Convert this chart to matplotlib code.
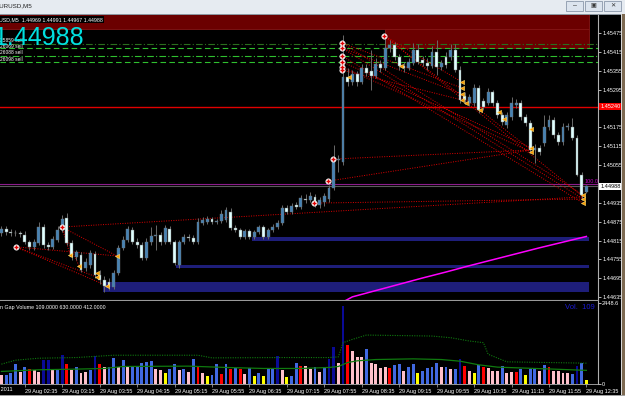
import numpy as np
import matplotlib.pyplot as plt
from matplotlib.patches import Rectangle
from matplotlib.transforms import blended_transform_factory

plt.rcParams['font.family'] = ['Liberation Sans', 'DejaVu Sans']

W, H = 625, 396


def fx(x):
    return x / W


def fy(y):
    return 1 - y / H


# ---------------- data ----------------
# EURUSD M5 candles, prices in points (0.00001) above 1.44000
open_pts = [839, 852, 842, 839, 840, 833, 810, 795, 807, 858,
            801, 795, 817, 849, 887, 807, 763, 769, 728, 737,
            772, 705, 690, 683, 667, 712, 791, 817, 849, 810,
            801, 760, 810, 830, 833, 810, 852, 810, 737, 810,
            826, 823, 810, 871, 874, 884, 874, 877, 880, 906,
            855, 849, 826, 845, 826, 842, 858, 826, 849, 858,
            871, 919, 906, 928, 922, 947, 944, 954, 928, 938,
            947, 982, 1071, 1065, 1335, 1319, 1345, 1319, 1364, 1354,
            1338, 1376, 1364, 1427, 1437, 1399, 1370, 1364, 1380, 1421,
            1389, 1380, 1370, 1415, 1367, 1399, 1399, 1421, 1357, 1275,
            1252, 1252, 1300, 1259, 1252, 1287, 1252, 1214, 1182, 1208,
            1246, 1252, 1208, 1189, 1103, 1109, 1125, 1176, 1198, 1151,
            1128, 1176, 1176, 1141, 1023, 969]
close_pts = [852, 842, 839, 840, 836, 810, 795, 810, 858, 801,
             795, 820, 849, 884, 807, 763, 779, 721, 747, 776,
             705, 690, 670, 667, 712, 791, 817, 852, 810, 801,
             760, 810, 830, 833, 810, 855, 810, 744, 810, 826,
             823, 810, 874, 880, 884, 874, 877, 900, 912, 855,
             849, 826, 845, 826, 842, 858, 826, 849, 858, 871,
             919, 906, 925, 922, 950, 944, 957, 928, 944, 957,
             982, 1071, 1074, 1335, 1319, 1345, 1319, 1364, 1348, 1338,
             1376, 1364, 1427, 1437, 1399, 1370, 1364, 1383, 1421, 1383,
             1380, 1370, 1415, 1367, 1380, 1373, 1421, 1357, 1262, 1262,
             1271, 1300, 1230, 1240, 1287, 1252, 1214, 1192, 1214, 1252,
             1252, 1208, 1189, 1103, 1109, 1097, 1176, 1198, 1151, 1128,
             1176, 1179, 1141, 1023, 960, 988]
high_pts = [861, 861, 852, 849, 845, 845, 817, 820, 874, 868,
            810, 830, 861, 896, 903, 817, 785, 779, 760, 785,
            782, 721, 702, 696, 721, 801, 830, 861, 858, 823,
            810, 823, 858, 864, 842, 864, 861, 817, 817, 836,
            836, 833, 887, 890, 893, 890, 884, 912, 922, 919,
            864, 855, 852, 852, 849, 864, 864, 855, 868, 880,
            928, 928, 934, 938, 960, 963, 969, 963, 954, 966,
            992, 1119, 1087, 1469, 1364, 1357, 1354, 1376, 1376, 1421,
            1396, 1389, 1475, 1453, 1446, 1408, 1383, 1396, 1443, 1440,
            1402, 1396, 1434, 1453, 1389, 1415, 1440, 1440, 1370, 1287,
            1281, 1313, 1310, 1268, 1300, 1294, 1262, 1224, 1224, 1271,
            1265, 1262, 1217, 1198, 1122, 1119, 1214, 1214, 1208, 1160,
            1189, 1189, 1205, 1151, 1033, 991]
low_pts = [830, 833, 830, 830, 826, 804, 785, 785, 801, 791,
           785, 788, 810, 842, 801, 753, 753, 715, 718, 728,
           696, 677, 651, 658, 661, 705, 785, 810, 804, 791,
           753, 753, 801, 785, 801, 804, 804, 737, 728, 804,
           814, 804, 804, 865, 868, 868, 868, 871, 874, 849,
           842, 820, 820, 820, 820, 836, 820, 820, 842, 852,
           865, 900, 900, 915, 915, 934, 938, 922, 919, 925,
           938, 976, 1033, 1055, 1307, 1310, 1307, 1313, 1338, 1294,
           1332, 1351, 1357, 1415, 1389, 1357, 1351, 1357, 1373, 1376,
           1370, 1357, 1364, 1341, 1357, 1364, 1389, 1351, 1252, 1249,
           1243, 1243, 1221, 1230, 1246, 1243, 1205, 1182, 1173, 1198,
           1237, 1198, 1179, 1094, 1062, 1087, 1116, 1167, 1141, 1119,
           1119, 1167, 1135, 1019, 944, 967]

# volume histogram and its colour codes (b blue, n navy, r red, p pink, y yellow)
volume = [272, 272, 322, 604, 372, 524, 453, 423, 372, 725,
          725, 423, 443, 876, 604, 423, 524, 342, 372, 423,
          846, 604, 503, 524, 775, 503, 725, 503, 544, 544,
          644, 674, 695, 443, 423, 342, 453, 604, 423, 463,
          372, 755, 503, 342, 242, 262, 604, 302, 604, 443,
          473, 453, 302, 473, 242, 322, 242, 443, 493, 846,
          423, 222, 242, 644, 554, 554, 443, 503, 372, 503,
          755, 1107, 644, 2356, 1178, 1007, 805, 805, 1047, 644,
          604, 473, 524, 493, 574, 604, 393, 503, 604, 342,
          403, 493, 503, 644, 503, 524, 453, 453, 755, 554,
          393, 342, 574, 503, 473, 403, 393, 544, 342, 372,
          372, 453, 272, 453, 473, 393, 574, 503, 403, 403,
          342, 322, 302, 544, 624, 109]
vol_codes = ("pbbbpbrppn" "npbnrpbppb" "nrpbbpbpbb" "bbbppybbpb"
             "pbrpybbrbr" "brpbybybbn" "pybbrppbpb" "nnpnrpppbp"
             "ppprbbpbby" "bbbbpbpbnr" "pybrpppbpp" "rbybbpbrpp"
             "ppbnby")

# volume average lines (bar, value)
vol_ma_bars = [0, 8, 16, 22, 26, 40, 48, 56, 64, 70, 72, 74, 76, 80, 88, 94, 98, 102, 106, 112, 118, 125]
vol_ma_vals = [380, 430, 450, 470, 530, 540, 500, 470, 470, 500, 530, 650, 700, 740, 760, 740, 690, 580, 510, 480, 450, 412]
vol_hi_bars = [0, 3, 8, 16, 24, 42, 45, 60, 70, 72, 73, 75, 78, 92, 96, 100, 103, 104, 108, 125]
vol_hi_vals = [600, 720, 780, 800, 870, 870, 790, 800, 800, 820, 1250, 1350, 1480, 1450, 1400, 1300, 1250, 900, 670, 630]

# slow moving average on price (bar, points)
ma_bars = [73, 75, 80, 85, 90, 95, 100, 105, 110, 115, 120, 125]
ma_pts = [620, 636, 656, 676, 696, 715, 735, 754, 773, 792, 810, 828]

# horizontal levels (points)
red_level = 1240
bid_level = 988
magenta_level = 995
green_levels = [1441, 1426, 1402, 1383]

# zones: (start bar, low, high) in points
red_zones = [(-1.0, 1488, 1560), (81.9, 1427, 1488)]
blue_zones = [(53.5, 814, 826), (37.3, 727, 737), (21.7, 651, 683)]
zone_end = 125.6

# dotted trend lines ((bar, pts), (bar, pts))
dotted = [((3.05, 795), (24.7, 766)), ((3.05, 795), (22.6, 671)), ((3.05, 795), (20.4, 699)),
          ((12.9, 858), (24.7, 766)), ((12.9, 858), (14.7, 769)), ((12.9, 858), (16.6, 734)),
          ((12.9, 858), (124.3, 954)), ((66.8, 934), (124.3, 947)),
          ((69.8, 1004), (113.2, 1103)), ((70.9, 1074), (113.2, 1103)),
          ((72.8, 1443), (124.3, 960)), ((72.8, 1427), (124.3, 947)), ((72.8, 1402), (124.3, 934)),
          ((72.8, 1383), (113.2, 1109)), ((72.8, 1367), (113.2, 1097)), ((72.8, 1357), (98.4, 1262)),
          ((81.8, 1466), (124.3, 954)), ((81.8, 1466), (98.4, 1319)), ((81.8, 1466), (113.2, 1103)),
          ((72.8, 1443), (98.4, 1300)), ((72.8, 1427), (98.4, 1281))]

# swing markers
cross_bars = [3.05, 12.9, 66.8, 69.8, 70.9, 72.8, 72.8, 72.8, 72.8, 72.8, 72.8, 81.8]
cross_pts = [795, 858, 934, 1004, 1074, 1443, 1427, 1402, 1383, 1367, 1357, 1466]
arrow_bars = [14.7, 16.6, 20.4, 20.4, 22.6, 24.7, 74.3, 85.4, 98.4, 98.4, 98.4, 98.4,
              99.3, 102.3, 106.3, 107.4, 113.2, 113.2, 113.2, 124.3, 124.3, 124.3]
arrow_pts = [769, 734, 712, 699, 670, 766, 1335, 1370, 1319, 1300, 1281, 1262,
             1252, 1230, 1224, 1202, 1170, 1109, 1097, 960, 947, 934]

price_ticks = [1.45475, 1.45415, 1.45355, 1.45295, 1.45175, 1.45115, 1.45055,
               1.44935, 1.44875, 1.44815, 1.44755, 1.44695, 1.44635]
time_bars = [5, 13, 21, 29, 37, 45, 53, 61, 69, 77, 85, 93, 101, 109, 117, 125]
time_labels = ['29 Aug 02:35', '29 Aug 03:15', '29 Aug 03:55', '29 Aug 04:35',
               '29 Aug 05:15', '29 Aug 05:55', '29 Aug 06:35', '29 Aug 07:15',
               '29 Aug 07:55', '29 Aug 08:35', '29 Aug 09:15', '29 Aug 09:55',
               '29 Aug 10:35', '29 Aug 11:15', '29 Aug 11:55', '29 Aug 12:35']


def pr(p):
    return 1.44 + np.asarray(p, dtype=float) / 1e5


opens, closes, highs, lows = pr(open_pts), pr(close_pts), pr(high_pts), pr(low_pts)
idx = np.arange(len(opens))

# ---------------- figure ----------------
fig = plt.figure(figsize=(W / 100, H / 100), dpi=100, facecolor='black')

ax = fig.add_axes([0, fy(300), fx(598), (300 - 15) / H])
ax.set_facecolor('black')
ax.set_xlim(-0.3, 598 / 4.68 - 0.3)
ax.set_ylim(1.44626, 1.45532)

for x0, lo, hi in red_zones:
    ax.add_patch(Rectangle((x0, pr(lo)), zone_end - x0, pr(hi) - pr(lo),
                           fc='#6b0000', ec='#851616', lw=0.6, zorder=0.5))
for x0, lo, hi in blue_zones:
    ax.add_patch(Rectangle((x0, pr(lo)), zone_end - x0, pr(hi) - pr(lo),
                           fc='#1e1e7a', ec='none', zorder=0.5))

ax.axhline(pr(red_level), color='#e00000', lw=1.0, zorder=1)
ax.axhline(pr(magenta_level), color='#8b1c8b', lw=0.8, zorder=1)
ax.axhline(pr(bid_level), color='#5a5a5a', lw=0.8, zorder=1)
green_styles = [((0, (6, 2, 1, 2)), '#2a6e1e'), ((0, (5, 3)), '#2fbf2f'),
                ((0, (6, 2, 1, 2)), '#2fbf2f'), ((0, (5, 3)), '#2fbf2f')]
for lvl, (ls, col) in zip(green_levels, green_styles):
    ax.axhline(pr(lvl), color=col, lw=0.8, ls=ls, zorder=1)

ax.plot(ma_bars, pr(ma_pts), color='#ff00ff', lw=1.1, zorder=2)

for (b0, p0), (b1, p1) in dotted:
    ax.plot([b0, b1], [pr(p0), pr(p1)], color='#e00000', lw=0.7,
            ls=(0, (1, 1.5)), zorder=2)

# candles: blue = up, light cyan = down
up = closes >= opens
body_lo = np.minimum(opens, closes)
body_h = np.maximum(np.abs(closes - opens), 0.000015)
ax.vlines(idx, lows, highs, color='#6a6a6a', lw=0.7, zorder=3)
ax.bar(idx, body_h, bottom=body_lo, width=0.62,
       color=np.where(up, '#4682b4', '#e0ffff'), edgecolor='#707070', linewidth=0.3, zorder=4)

ax.plot(cross_bars, pr(cross_pts), 'o', ms=4, mfc='white', mec='#dddddd', mew=0.3, zorder=5)
ax.plot(cross_bars, pr(cross_pts), '+', ms=3, color='#e00000', mew=1.0, zorder=6)
ax.plot(arrow_bars, pr(arrow_pts), '<', ms=3, mfc='#ff9a00', mec='#ffe070', mew=0.4, zorder=5)

ax.yaxis.tick_right()
ax.set_yticks(price_ticks)
ax.set_yticklabels([f'{p:.5f}' for p in price_ticks])
ax.tick_params(axis='y', colors='white', labelsize=4, length=2, width=0.5, pad=1)
ax.tick_params(axis='x', bottom=False, labelbottom=False)
for s in ['top', 'left']:
    ax.spines[s].set_visible(False)
ax.spines['right'].set_color('#b0b0b0')
ax.spines['right'].set_linewidth(0.8)
ax.spines['bottom'].set_color('#9a9a9a')
ax.spines['bottom'].set_linewidth(0.8)

tr = blended_transform_factory(ax.transAxes, ax.transData)
ax.text(1.004, pr(red_level), f'{pr(red_level):.5f}', transform=tr, ha='left', va='center',
        fontsize=4, color='white', bbox=dict(boxstyle='square,pad=0.2', fc='#ff0000', ec='none'),
        clip_on=False, zorder=10)
ax.text(1.004, pr(bid_level), f'{pr(bid_level):.5f}', transform=tr, ha='left', va='center',
        fontsize=4, color='black', bbox=dict(boxstyle='square,pad=0.2', fc='white', ec='none'),
        clip_on=False, zorder=10)

# ---------------- volume panel ----------------
vax = fig.add_axes([0, fy(384), fx(598), (384 - 301) / H])
vax.set_facecolor('black')
vax.set_xlim(ax.get_xlim())
vax.set_ylim(0, 2510)
code_col = {'b': '#4169e1', 'n': '#0a0a96', 'r': '#ff0000', 'p': '#ffc0cb', 'y': '#ffff00'}
vax.bar(idx, volume, width=0.62, color=[code_col[c] for c in vol_codes], zorder=2)
vax.plot(vol_ma_bars, vol_ma_vals, color='#0f7a0f', lw=0.9, zorder=3)
vax.plot(vol_hi_bars, vol_hi_vals, color='#0f7a0f', lw=0.8, ls=(0, (1, 1.2)), zorder=3)

vax.yaxis.tick_right()
vax.set_yticks([0, 2448.6])
vax.set_yticklabels(['0', '2448.6'])
vax.tick_params(axis='y', colors='white', labelsize=4, length=2, width=0.5, pad=1)
vax.set_xticks(time_bars)
vax.set_xticklabels(time_labels, ha='left')
vax.tick_params(axis='x', colors='#b0b0b0', labelcolor='white', labelsize=4, length=2, width=0.5, pad=1.5)
for s in ['top', 'left']:
    vax.spines[s].set_visible(False)
vax.spines['right'].set_color('#b0b0b0')
vax.spines['right'].set_linewidth(0.8)
vax.spines['bottom'].set_color('#b0b0b0')
vax.spines['bottom'].set_linewidth(0.6)

# ---------------- window frame and texts ----------------
fig.patches.append(Rectangle((0, fy(13.5)), 1, 13.5 / H, transform=fig.transFigure,
                             fc='#e6ebf1', ec='none', zorder=0))
fig.patches.append(Rectangle((0, fy(15)), 1, 1.5 / H, transform=fig.transFigure,
                             fc='#8c96a0', ec='none', zorder=0))
fig.patches.append(Rectangle((fx(621), 0), fx(4), fy(13.5), transform=fig.transFigure,
                             fc='#7d6a52', ec='none', zorder=0))
fig.patches.append(Rectangle((fx(620.5), 0), fx(1), fy(13.5), transform=fig.transFigure,
                             fc='#d8d8d8', ec='none', zorder=0))
fig.patches.append(Rectangle((0, 0), 1, 1.5 / H, transform=fig.transFigure,
                             fc='#a0a0a0', ec='none', zorder=0))
for bx in [566, 585, 604]:
    fig.patches.append(Rectangle((fx(bx), fy(11)), fx(17), 10 / H, transform=fig.transFigure,
                                 fc='#dce4ee', ec='#8a98aa', lw=0.6, zorder=1))
fig.text(fx(574.5), fy(6), '\u2012', fontsize=5, color='#333333', ha='center', va='center')
fig.text(fx(593.5), fy(6), '\u25a3', fontsize=4.5, color='#333333', ha='center', va='center',
         family='DejaVu Sans')
fig.text(fx(612.5), fy(6), '\u2715', fontsize=4.5, color='#333333', ha='center', va='center',
         family='DejaVu Sans')
fig.text(fx(-4), fy(6), 'EURUSD,M5', fontsize=4.5, color='#222222', va='center')

fig.text(fx(-1), fy(19.5), 'USD,M5  1.44969 1.44991 1.44967 1.44988', fontsize=3.8,
         color='white', va='center', bbox=dict(boxstyle='square,pad=0.15', fc='black', ec='none'))
for yy, s in zip([41, 46.5, 53, 59.5], ['25859 sell', '26069 sell', '26088 sell', '26098 sell']):
    fig.text(fx(0), fy(yy), s, fontsize=3.5, color='white', va='center')
fig.text(fx(-7), fy(45), '1.44988', fontsize=18, color='#00e0e0', va='baseline')
fig.text(fx(585), fy(182), '100.0', fontsize=4, color='#c000c0', va='center')

fig.text(fx(0), fy(307.5), 'n Gap Volume 109.0000 630.0000 412.0000', fontsize=3.8,
         color='white', va='center')
fig.text(fx(595), fy(307.5), 'Vol.  109', fontsize=5.5, color='#1a1ad2', ha='right', va='center')
fig.text(fx(13), fy(389), '29 Aug 2011', fontsize=4, color='white', ha='right', va='center')

fig.savefig('out.png', dpi=100, facecolor='black')
